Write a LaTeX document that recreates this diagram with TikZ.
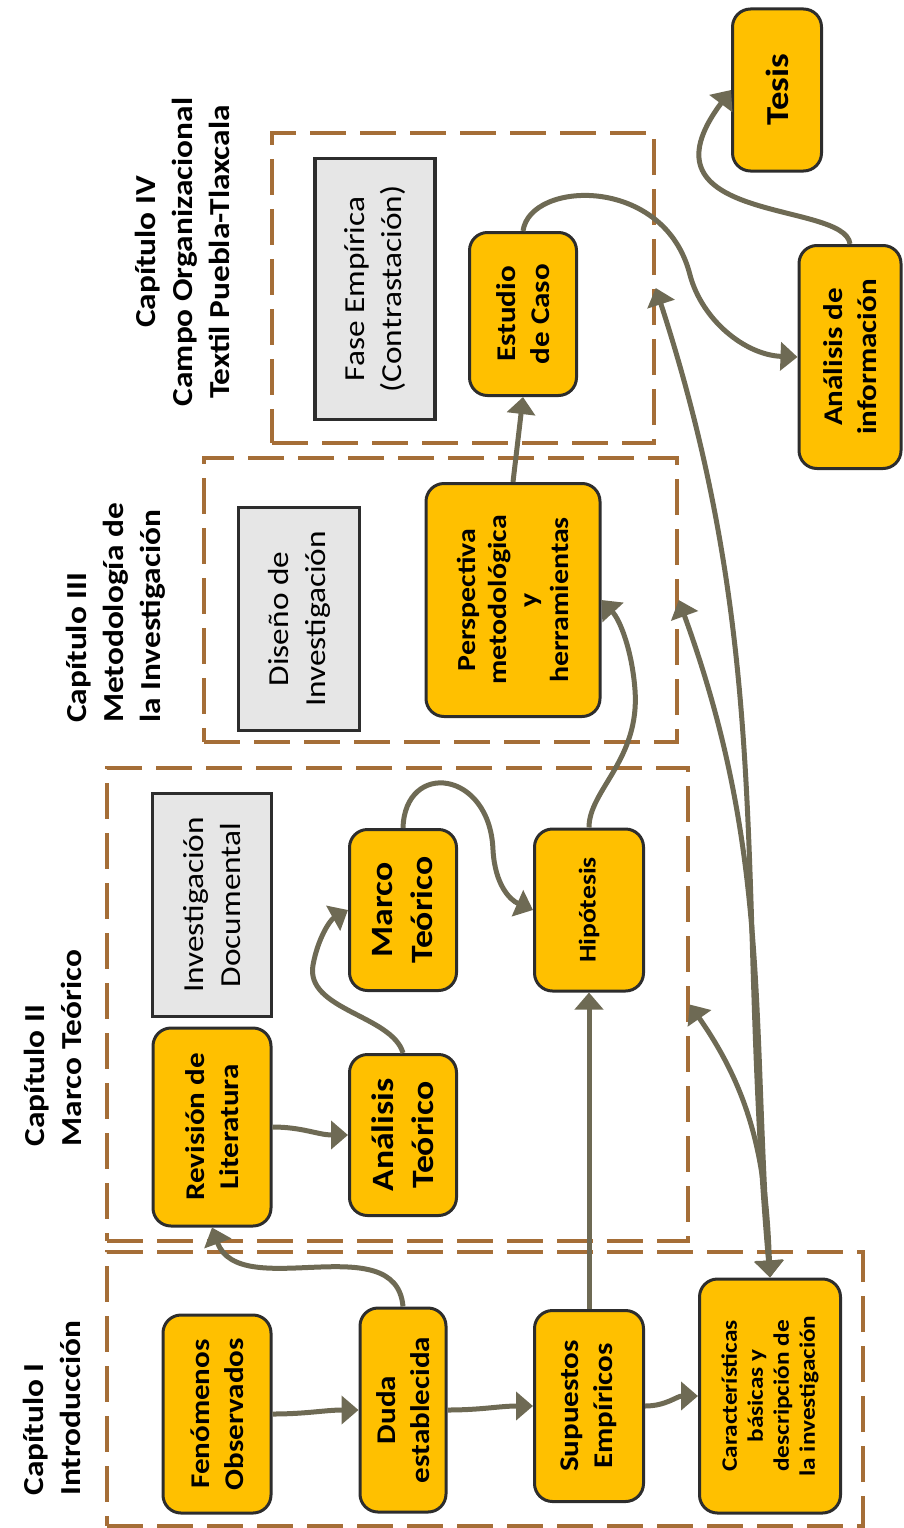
\documentclass[tikz,border=0pt]{standalone}
\usepackage{fontspec}
\setmainfont[FakeStretch=1.15]{Carlito}
\usetikzlibrary{arrows.meta}
\definecolor{boxfill}{RGB}{255,192,0}
\definecolor{boxline}{RGB}{45,45,45}
\definecolor{grayfill}{RGB}{230,230,230}
\definecolor{capline}{RGB}{165,110,55}
\definecolor{arrowgray}{RGB}{110,106,84}

\begin{document}
\begin{tikzpicture}[x=1pt,y=1pt,
    % boxes are turned: east = up, west = down, north = left, south = right
    ybox/.style={rotate=90, draw=boxline, line width=3pt, fill=boxfill,
      rounded corners=18pt, align=center, inner sep=2pt,
      font=\fontsize{27}{34}\selectfont\bfseries},
    gbox/.style={rotate=90, draw=boxline, line width=3.5pt, fill=grayfill,
      align=center, inner sep=2pt, font=\fontsize{29}{37}\selectfont},
    capbox/.style={draw=capline, line width=3.5pt, dash pattern=on 36pt off 14pt,
      inner sep=0pt},
    captitle/.style={rotate=90, inner sep=0pt,
      font=\fontsize{29}{37}\selectfont\bfseries},
    flow/.style={draw=arrowgray, line width=5pt,
      -{Triangle[length=17pt,width=28pt]}},
    twoway/.style={flow, {Triangle[length=17pt,width=28pt]}-{Triangle[length=17pt,width=28pt]}}]
    \useasboundingbox (0,0) rectangle (903,-1528);

    % Chapter frames
    \node[capbox, minimum width=756, minimum height=274] (cap1) at (485,-1389) {};
    \node[capbox, minimum width=581, minimum height=473] (cap2) at (397.5,-1004.5) {};
    \node[capbox, minimum width=473, minimum height=284] (cap3) at (440.5,-600) {};
    \node[capbox, minimum width=382, minimum height=310] (cap4) at (463,-288) {};

    % Chapter titles
    \node[captitle, align=left] (t1) at (52,-1408) {Capítulo I\\Introducción};
    \node[captitle, align=left] (t2) at (53,-1048) {Capítulo II\\Marco Teórico};
    \node[captitle, align=left] (t3) at (116,-613) {Capítulo III\\Metodología de\\la Investigación};
    \node[captitle, align=center] (t4) at (182,-252) {Capítulo IV\\Campo Organizacional\\Textil Puebla-Tlaxcala};

    % Chapter I
    \node[ybox, minimum width=198, minimum height=108] (fen) at (217,-1414) {Fenómenos\\Observados};
    \node[ybox, minimum width=204, minimum height=86] (duda) at (403,-1410) {Duda\\establecida};
    \node[ybox, minimum width=191, minimum height=109] (sup) at (589,-1406) {Supuestos\\Empíricos};
    \node[ybox, minimum width=234, minimum height=141,
      font=\fontsize{22}{26}\selectfont\bfseries] (car) at (770,-1396)
      {Características\\básicas y\\descripción de\\la investigación};

    % Chapter II
    \node[ybox, minimum width=198, minimum height=118] (rev) at (212,-1127) {Revisión de\\Literatura};
    \node[gbox, minimum width=223, minimum height=119] (invdoc) at (212,-905) {Investigación\\Documental};
    \node[ybox, minimum width=161, minimum height=107,
      font=\fontsize{31}{40}\selectfont\bfseries] (anteo) at (403,-1135) {Análisis\\Teórico};
    \node[ybox, minimum width=161, minimum height=107,
      font=\fontsize{31}{40}\selectfont\bfseries] (marco) at (403,-910) {Marco\\Teórico};
    \node[ybox, minimum width=162, minimum height=109,
      font=\fontsize{24}{30}\selectfont\bfseries] (hip) at (589,-910) {Hipótesis};

    % Chapter III
    \node[gbox, minimum width=223, minimum height=121] (disinv) at (299,-619) {Diseño de\\Investigación};
    \node[ybox, minimum width=233, minimum height=174,
      font=\fontsize{26}{31}\selectfont\bfseries] (persp) at (513,-600)
      {Perspectiva\\metodológica\\y\\herramientas};

    % Chapter IV
    \node[gbox, minimum width=261, minimum height=120] (fase) at (375,-289) {Fase Empírica\\(Contrastación)};
    \node[ybox, minimum width=163, minimum height=107] (estudio) at (523,-314) {Estudio\\de Caso};

    % Outside
    \node[ybox, minimum width=162, minimum height=89,
      font=\fontsize{32}{40}\selectfont\bfseries] (tesis) at (777,-90) {Tesis};
    \node[ybox, minimum width=223, minimum height=102] (anin) at (850,-357) {Análisis de\\información};

    % Flow
    \draw[flow] (fen.south) to[out=0,in=180] (duda.north);
    \draw[flow] (duda.south) to[out=0,in=180] (sup.north);
    \draw[flow] (sup.south) to[out=0,in=180] (car.north);
    \draw[flow] (duda.east) to[out=95,in=-70] (rev.west);
    \draw[flow] (rev.south) to[out=0,in=180] (anteo.north);
    \draw[flow] (anteo.east) .. controls (392,-1015) and (305,-1010) .. (313,-965)
      .. controls (318,-938) and (330,-920) .. (marco.north);
    \draw[flow] (marco.east) .. controls (405,-760) and (490,-770) .. (493,-850)
      .. controls (495,-885) and (510,-900) .. (hip.north);
    \draw[flow] (sup.east) -- (hip.west);
    \draw[flow] (hip.east) .. controls (589,-790) and (640,-760) .. (635,-690)
      .. controls (632,-650) and (620,-620) .. (persp.south);
    \draw[flow] (persp.east) -- (estudio.west);
    \draw[flow] (estudio.east) .. controls (530,-180) and (665,-175) .. (690,-275)
      .. controls (702,-320) and (745,-355) .. (anin.north);
    \draw[flow] (anin.east) .. controls (845,-200) and (630,-225) .. (tesis.north);

    % Back to the chapters
    \draw[twoway] (car.east) to[out=92,in=-55] (cap2.east);
    \draw[twoway] (car.east) to[out=94,in=-70] (cap3.east);
    \draw[twoway] (car.east) to[out=95,in=-72] (cap4.east);
\end{tikzpicture}
\end{document}
